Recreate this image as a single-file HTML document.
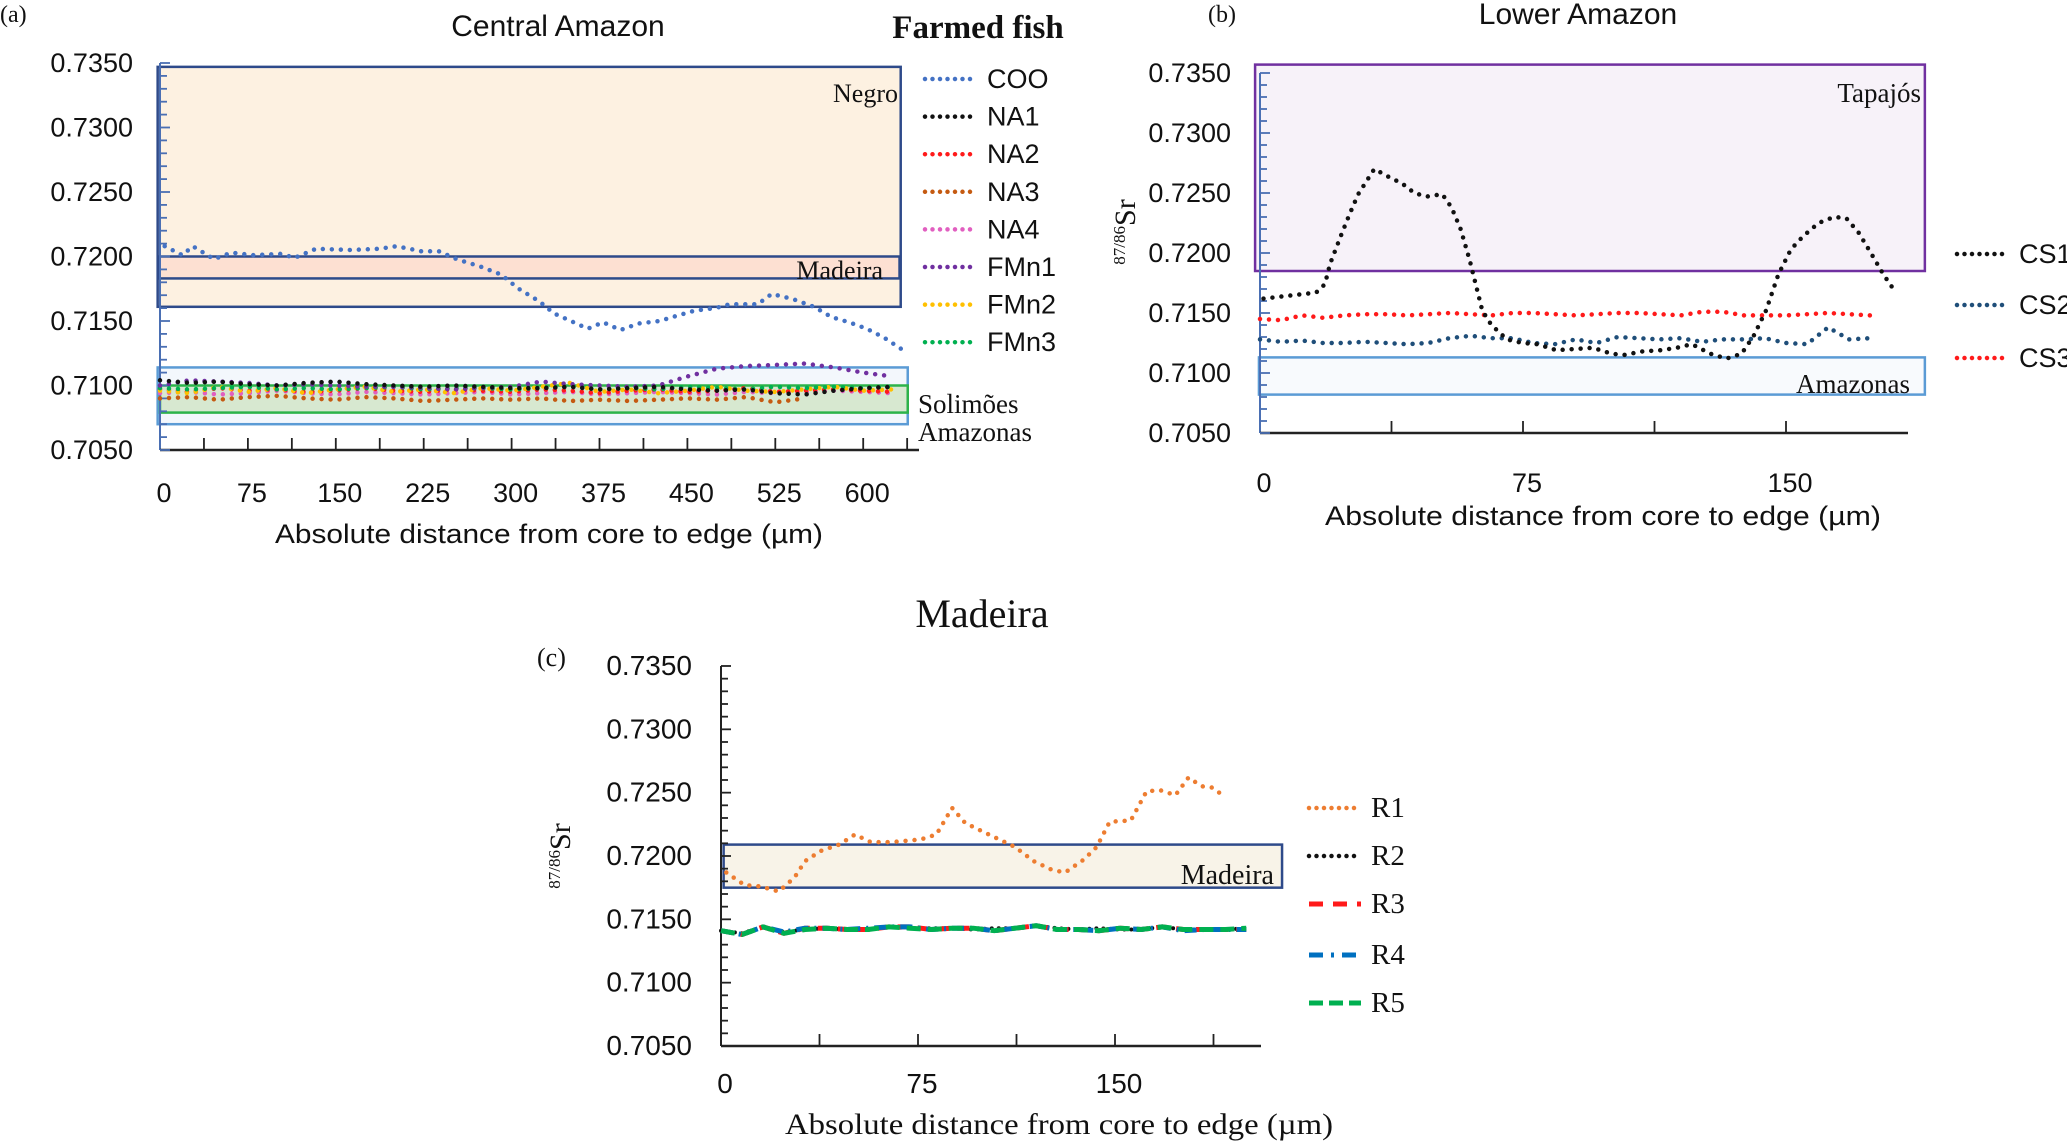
<!DOCTYPE html>
<html><head><meta charset="utf-8"><style>
html,body{margin:0;padding:0;background:#fff;}
svg{display:block;}
.sans{font-family:"Liberation Sans",sans-serif;}
.serif{font-family:"Liberation Serif",serif;}
</style></head>
<body>
<svg id="fig" width="2067" height="1142" viewBox="0 0 2067 1142" xmlns="http://www.w3.org/2000/svg"></svg>
<script>
// ---------- DATA ----------
const yTickLabels = [0.7050,0.7100,0.7150,0.7200,0.7250,0.7300,0.7350];
const xTicksA = [0,75,150,225,300,375,450,525,600];
const xTicksBC = [0,75,150];

const cooX = [4,19,28,46,61,79,103,115,133,163,187,202,223,238,253,274,291,306,324,336,348,365,378,393,408,426,441,456,474,486,510,522,540,558,573,588,603,618,633];
const cooY = [0.7208,0.7201,0.7208,0.7198,0.7203,0.7201,0.7202,0.7199,0.7206,0.7205,0.7206,0.7208,0.7204,0.7204,0.7198,0.7192,0.7186,0.7175,0.7165,0.7156,0.7151,0.7144,0.7149,0.7143,0.7148,0.7150,0.7154,0.7158,0.7160,0.7163,0.7163,0.7171,0.7167,0.7161,0.7153,0.7149,0.7144,0.7137,0.7128];
const farmX = [0,25,50,75,100,125,150,175,200,225,250,275,300,325,350,375,400,425,450,475,500,525,550,575,600,625];
const na1Y = [0.7104,0.7102,0.7103,0.7101,0.7100,0.7102,0.7103,0.7101,0.7100,0.7099,0.7100,0.7099,0.7098,0.7098,0.7099,0.7097,0.7098,0.7099,0.7097,0.7096,0.7097,0.7094,0.7093,0.7096,0.7098,0.7099];
const na2Y = [0.7097,0.7095,0.7098,0.7096,0.7097,0.7095,0.7096,0.7098,0.7096,0.7095,0.7097,0.7096,0.7095,0.7097,0.7096,0.7094,0.7096,0.7097,0.7095,0.7096,0.7098,0.7095,0.7096,0.7097,0.7096,0.7095];
const na3Y = [0.7090,0.7091,0.7089,0.7091,0.7092,0.7090,0.7089,0.7091,0.7090,0.7088,0.7089,0.7090,0.7089,0.7090,0.7088,0.7089,0.7088,0.7089,0.7090,0.7089,0.7091,0.7087,0.7090];
const na4Y = [0.7094,0.7095,0.7093,0.7094,0.7096,0.7094,0.7093,0.7095,0.7094,0.7093,0.7094,0.7095,0.7093,0.7094,0.7095,0.7093,0.7094,0.7095,0.7094,0.7093,0.7095,0.7094,0.7095,0.7096,0.7095,0.7094];
const fmn1Y = [0.7100,0.7104,0.7103,0.7102,0.7100,0.7101,0.7100,0.7099,0.7099,0.7098,0.7097,0.7098,0.7099,0.7103,0.7101,0.7100,0.7099,0.7100,0.7107,0.7113,0.7115,0.7116,0.7117,0.7114,0.7110,0.7107];
const fmn2Y = [0.7096,0.7094,0.7099,0.7095,0.7098,0.7094,0.7097,0.7099,0.7095,0.7097,0.7094,0.7098,0.7096,0.7099,0.7102,0.7095,0.7097,0.7094,0.7096,0.7099,0.7096,0.7095,0.7097,0.7099,0.7096,0.7097];
const fmn3Y = [0.7098,0.7097,0.7098,0.7099,0.7097,0.7098,0.7097,0.7098,0.7099,0.7097,0.7098,0.7098,0.7097,0.7098,0.7099,0.7097,0.7098,0.7097,0.7099,0.7098,0.7097,0.7099,0.7098,0.7099,0.7098,0.7099];

const cs1X = [1,7,16,18.5,20,23,25.5,28,32.6,37,40.5,44,47.5,52,54.6,57.2,59.8,61.6,63.4,66,70.4,74.8,79.2,84.5,89.8,95,100.3,103.8,109.1,114.4,118.8,123.2,128.5,133,137.3,140.8,144.3,147.8,151.4,154.9,159.3,163.7,167.2,170.7,174.2,177.8,181.3];
const cs1Y = [0.7162,0.7164,0.7167,0.7174,0.7191,0.7214,0.7232,0.7249,0.7270,0.7263,0.7258,0.7250,0.7247,0.7249,0.7238,0.7220,0.7194,0.7173,0.7152,0.7140,0.7128,0.7125,0.7124,0.7119,0.7120,0.7121,0.7116,0.7115,0.7118,0.7119,0.7121,0.7124,0.7116,0.7112,0.7116,0.7131,0.7152,0.7182,0.7203,0.7214,0.7225,0.7230,0.7229,0.7217,0.7200,0.7182,0.7167];
const csX = [0,6,12,18,24,30,36,42,48,54,60,66,72,78,84,90,96,102,108,114,120,126,132,138,144,150,156,162,168,174];
const cs2Y = [0.7128,0.7126,0.7127,0.7125,0.7125,0.7126,0.7125,0.7124,0.7125,0.7129,0.7131,0.7129,0.7129,0.7125,0.7124,0.7128,0.7125,0.7130,0.7129,0.7128,0.7129,0.7126,0.7128,0.7128,0.7129,0.7125,0.7124,0.7138,0.7128,0.7129];
const cs3Y = [0.7145,0.7144,0.7148,0.7146,0.7148,0.7149,0.7149,0.7148,0.7149,0.7150,0.7149,0.7148,0.7150,0.7150,0.7149,0.7148,0.7149,0.7150,0.7150,0.7149,0.7148,0.7151,0.7151,0.7148,0.7148,0.7148,0.7149,0.7150,0.7149,0.7148];

const r1X = [2,9,15,22,28,32,38,45,51,57,65,76,82,88,93,102,112,119,126,131,138,143,148,156,162,167,173,178,183,187,191];
const r1Y = [0.7187,0.7177,0.7176,0.7172,0.7183,0.7196,0.7204,0.7209,0.7217,0.7211,0.7211,0.7213,0.7217,0.7238,0.7226,0.7217,0.7207,0.7196,0.7189,0.7187,0.7197,0.7207,0.7227,0.7228,0.7251,0.7252,0.7248,0.7262,0.7255,0.7254,0.7248];
const rX = [0,8,16,24,32,40,48,56,64,72,80,88,96,104,112,120,128,136,144,152,160,168,176,184,192,200];
const r2Y = [0.7141,0.7139,0.7144,0.7140,0.7142,0.7143,0.7142,0.7142,0.7144,0.7143,0.7143,0.7143,0.7142,0.7143,0.7143,0.7145,0.7143,0.7142,0.7143,0.7142,0.7142,0.7144,0.7142,0.7142,0.7142,0.7143];
const r3Y = [0.7141,0.7138,0.7144,0.7139,0.7143,0.7143,0.7142,0.7142,0.7144,0.7144,0.7142,0.7143,0.7143,0.7141,0.7143,0.7145,0.7142,0.7142,0.7141,0.7143,0.7142,0.7144,0.7142,0.7142,0.7142,0.7142];
const r4Y = [0.7141,0.7138,0.7144,0.7140,0.7143,0.7143,0.7142,0.7143,0.7144,0.7144,0.7142,0.7143,0.7143,0.7141,0.7143,0.7145,0.7142,0.7142,0.7141,0.7143,0.7142,0.7144,0.7141,0.7142,0.7142,0.7142];
const r5Y = [0.7141,0.7138,0.7144,0.7139,0.7142,0.7143,0.7142,0.7142,0.7144,0.7143,0.7142,0.7143,0.7143,0.7141,0.7143,0.7145,0.7142,0.7142,0.7141,0.7143,0.7142,0.7144,0.7142,0.7142,0.7142,0.7143];

// ---------- SCALES ----------
const xA = d => 160 + d/75*87.9;
const yA = v => 450 - (v-0.705)*12900;
const xB = d => 1260 + d/75*263;
const yB = v => 433 - (v-0.705)*12000;
const xC = d => 721 + d/75*197;
const yC = v => 1046 - (v-0.705)*12667;

const svg = document.getElementById('fig');
const NS = 'http://www.w3.org/2000/svg';
function mk(tag, attrs, parent){
  const e = document.createElementNS(NS, tag);
  for (const k in attrs) e.setAttribute(k, attrs[k]);
  (parent||svg).appendChild(e);
  return e;
}
function txt(s, x, y, cls, size, anchor, extra){
  const e = mk('text', Object.assign({x:x, y:y, class:cls, 'font-size':size, 'text-anchor':anchor||'start', fill:'#111'}, extra||{}));
  e.textContent = s;
  return e;
}
function box(sx, sy, d0, d1, v0, v1, fill, stroke, sw, name){
  const r = mk('rect', {x:sx(d0), y:sy(v1), width:sx(d1)-sx(d0), height:sy(v0)-sy(v1), fill:fill, stroke:stroke, 'stroke-width':sw});
  
  
}
function series(sx, sy, xs, ys, color, dash, sw, name, cap){
  let d = '';
  for (let i=0;i<ys.length;i++) d += (i?'L':'M') + sx(xs[i]).toFixed(1) + ' ' + sy(ys[i]).toFixed(1);
  const p = mk('path', {d:d, fill:'none', stroke:color, 'stroke-width':sw, 'stroke-dasharray':dash, 'stroke-linecap':cap||'round', 'stroke-linejoin':'round'});
  
  
}
function axes(sx, sy, dMax, xTicks, minorStep, axisEnd, lblX, xLblY, lblCls, lblSize, axisColor, name){
  const g = mk('g', {});
  
  
  mk('line', {x1:sx(0), y1:sy(0.705), x2:sx(0), y2:sy(0.735), stroke:axisColor, 'stroke-width':2}, g);
  mk('line', {x1:sx(0), y1:sy(0.705), x2:axisEnd, y2:sy(0.705), stroke:'#222', 'stroke-width':2.5}, g);
  for (let v=0.705; v<=0.73501; v+=0.001){
    const major = Math.abs(Math.round(v*1000)%5)===0;
    mk('line', {x1:sx(0), y1:sy(v), x2:sx(0)+(major?10:7), y2:sy(v), stroke:axisColor, 'stroke-width':1.8}, g);
  }
  for (let d=minorStep; d<=dMax; d+=minorStep){
    mk('line', {x1:sx(d), y1:sy(0.705), x2:sx(d), y2:sy(0.705)-12, stroke:'#222', 'stroke-width':1.8}, g);
  }
  yTickLabels.forEach(v=>{
    const t = txt(v.toFixed(4), lblX, sy(v)+9, lblCls, lblSize, 'end');
    
    
  });
  xTicks.forEach(d=>{
    const t = txt(String(d), sx(d)+4, xLblY, lblCls, lblSize, 'middle');
    
    
  });
}
function legendEntry(x, y, color, dash, sw, label, cls, size, cap){
  const g = mk('g', {});
  
  
  mk('line', {x1:x, y1:y, x2:x+52, y2:y, stroke:color, 'stroke-width':sw, 'stroke-dasharray':dash, 'stroke-linecap':cap||'round'}, g);
  const t = txt(label, x+62, y+9, cls, size, 'start', {});
  g.appendChild(t);
}
function srTitle(x, y, cls){
  const t = mk('text', {x:0, y:0, class:'serif', 'font-size':30, 'text-anchor':'middle', fill:'#111', transform:'translate('+x+','+y+') rotate(-90)'});
  
  
  const a = mk('tspan', {'font-size':17, dy:-10}, t); a.textContent = '87/86';
  const b = mk('tspan', {dy:10}, t); b.textContent = 'Sr';
}

// ---------- PANEL A ----------
box(xA, yA, -2, 632, 0.7161, 0.7347, '#fdf1e1', '#2e4a8a', 2.5, 'negro-box');
box(xA, yA, -1, 631, 0.7183, 0.7200, '#fde0d2', '#2e4a8a', 2.5, 'madeira-box-a');
box(xA, yA, -2, 638, 0.7070, 0.7114, '#f3f7fc', '#5b9bd5', 2.5, 'amazonas-box-a');
box(xA, yA, 0, 638, 0.7079, 0.7100, '#d7e8d0', '#2db34a', 2.5, 'solimoes-box');
axes(xA, yA, 640, xTicksA, 37.5, 919, 133, 502, 'sans', 27, '#4a6fb3', 'axes-a');
const dotA = '0 9';
series(xA, yA, farmX.slice(0,na3Y.length), na3Y, '#c55a11', dotA, 4.5, 'series-na3');
series(xA, yA, farmX, na4Y, '#e15fc0', dotA, 4.5, 'series-na4');
series(xA, yA, farmX, na2Y, '#ff1a1a', dotA, 4.5, 'series-na2');
series(xA, yA, farmX, fmn2Y, '#ffc000', dotA, 4.5, 'series-fmn2');
series(xA, yA, farmX, fmn3Y, '#00b050', dotA, 4.5, 'series-fmn3');
series(xA, yA, farmX, fmn1Y, '#7030a0', dotA, 4.5, 'series-fmn1');
series(xA, yA, farmX, na1Y, '#111', dotA, 4.5, 'series-na1');
series(xA, yA, cooX, cooY, '#4472c4', dotA, 4.5, 'series-coo');
[['Negro',898,102],['Madeira',883,279]].forEach(a=>{const t=txt(a[0],a[1],a[2],'serif',26,'end');});
let t;
t = txt('Solimões', 918, 413, 'serif', 27, 'start');  
t = txt('Amazonas', 918, 441, 'serif', 27, 'start');  
t = txt('Central Amazon', 558, 36, 'sans', 30, 'middle');  
t = txt('Farmed fish', 978, 38, 'serif', 33, 'middle', {'font-weight':'bold'});  
t = txt('(a)', 0, 22, 'serif', 24, 'start');  
t = txt('Absolute distance from core to edge (µm)', 549, 543, 'sans', 27, 'middle', {textLength:548, lengthAdjust:'spacingAndGlyphs'});  
const legA = [['COO','#4472c4'],['NA1','#111'],['NA2','#ff1a1a'],['NA3','#c55a11'],['NA4','#e15fc0'],['FMn1','#7030a0'],['FMn2','#ffc000'],['FMn3','#00b050']];
legA.forEach((e,i)=>legendEntry(925, 79+i*37.6, e[1], '0 7.5', 4.5, e[0], 'sans', 27));

// ---------- PANEL B ----------
box(xB, yB, -1.4, 189.6, 0.7185, 0.7357, '#f7f2f9', '#7030a0', 2.5, 'tapajos-box');
box(xB, yB, -0.3, 189.6, 0.7082, 0.7113, '#f8fafd', '#5b9bd5', 2.5, 'amazonas-box-b');
axes(xB, yB, 180, xTicksBC, 37.5, 1908, 1231, 492, 'sans', 27, '#4a6fb3', 'axes-b');
series(xB, yB, csX, cs2Y, '#1f4e79', '0 9', 4.5, 'series-cs2');
series(xB, yB, csX, cs3Y, '#ff1a1a', '0 9', 4.5, 'series-cs3');
series(xB, yB, cs1X, cs1Y, '#111', '0 9', 4.5, 'series-cs1');
t = txt('Tapajós', 1921, 102, 'serif', 27, 'end');  
t = txt('Amazonas', 1910, 393, 'serif', 27, 'end');  
t = txt('Lower Amazon', 1578, 24, 'sans', 30, 'middle');  
t = txt('(b)', 1208, 22, 'serif', 24, 'start');  
t = txt('Absolute distance from core to edge  (µm)', 1603, 525, 'sans', 27, 'middle', {textLength:556, lengthAdjust:'spacingAndGlyphs'});  
srTitle(1135, 232, 'y-axis-title-b');
legendEntry(1957, 254, '#111', '0 7.5', 4.5, 'CS1', 'sans', 27);
legendEntry(1957, 305, '#1f4e79', '0 7.5', 4.5, 'CS2', 'sans', 27);
legendEntry(1957, 358, '#ff1a1a', '0 7.5', 4.5, 'CS3', 'sans', 27);

// ---------- PANEL C ----------
box(xC, yC, 1, 213.6, 0.7175, 0.7209, '#f8f3e8', '#2e4a8a', 2.5, 'madeira-box-c');
axes(xC, yC, 210, xTicksBC, 37.5, 1261, 692, 1093, 'sans', 28, '#222', 'axes-c');
series(xC, yC, r1X, r1Y, '#ed7d31', '0 9', 4.5, 'series-r1');
series(xC, yC, rX, r2Y, '#111', '0 7', 4, 'series-r2');
series(xC, yC, rX, r3Y, '#ff1a1a', '12 8', 5, 'series-r3', 'butt');
series(xC, yC, rX, r4Y, '#0070c0', '12 6 2 6', 5, 'series-r4', 'butt');
series(xC, yC, rX, r5Y, '#00b050', '14 7', 5, 'series-r5', 'butt');
t = txt('Madeira', 1274, 884, 'serif', 28, 'end');  
t = txt('Madeira', 982, 627, 'serif', 40, 'middle');  
t = txt('(c)', 537, 666, 'serif', 26, 'start');  
t = txt('Absolute distance from core to edge (µm)', 1059, 1134, 'serif', 30, 'middle', {textLength:548, lengthAdjust:'spacingAndGlyphs'});  
srTitle(570, 856, 'y-axis-title-c');
legendEntry(1309, 808, '#ed7d31', '0 7.5', 4.5, 'R1', 'serif', 29);
legendEntry(1309, 856, '#111', '0 7.5', 4.5, 'R2', 'serif', 29);
legendEntry(1309, 904, '#ff1a1a', '14 10', 5, 'R3', 'serif', 29, 'butt');
legendEntry(1309, 955, '#0070c0', '14 8 3 8', 5, 'R4', 'serif', 29, 'butt');
legendEntry(1309, 1003, '#00b050', '14 6', 5, 'R5', 'serif', 29, 'butt');
</script>
</body></html>
